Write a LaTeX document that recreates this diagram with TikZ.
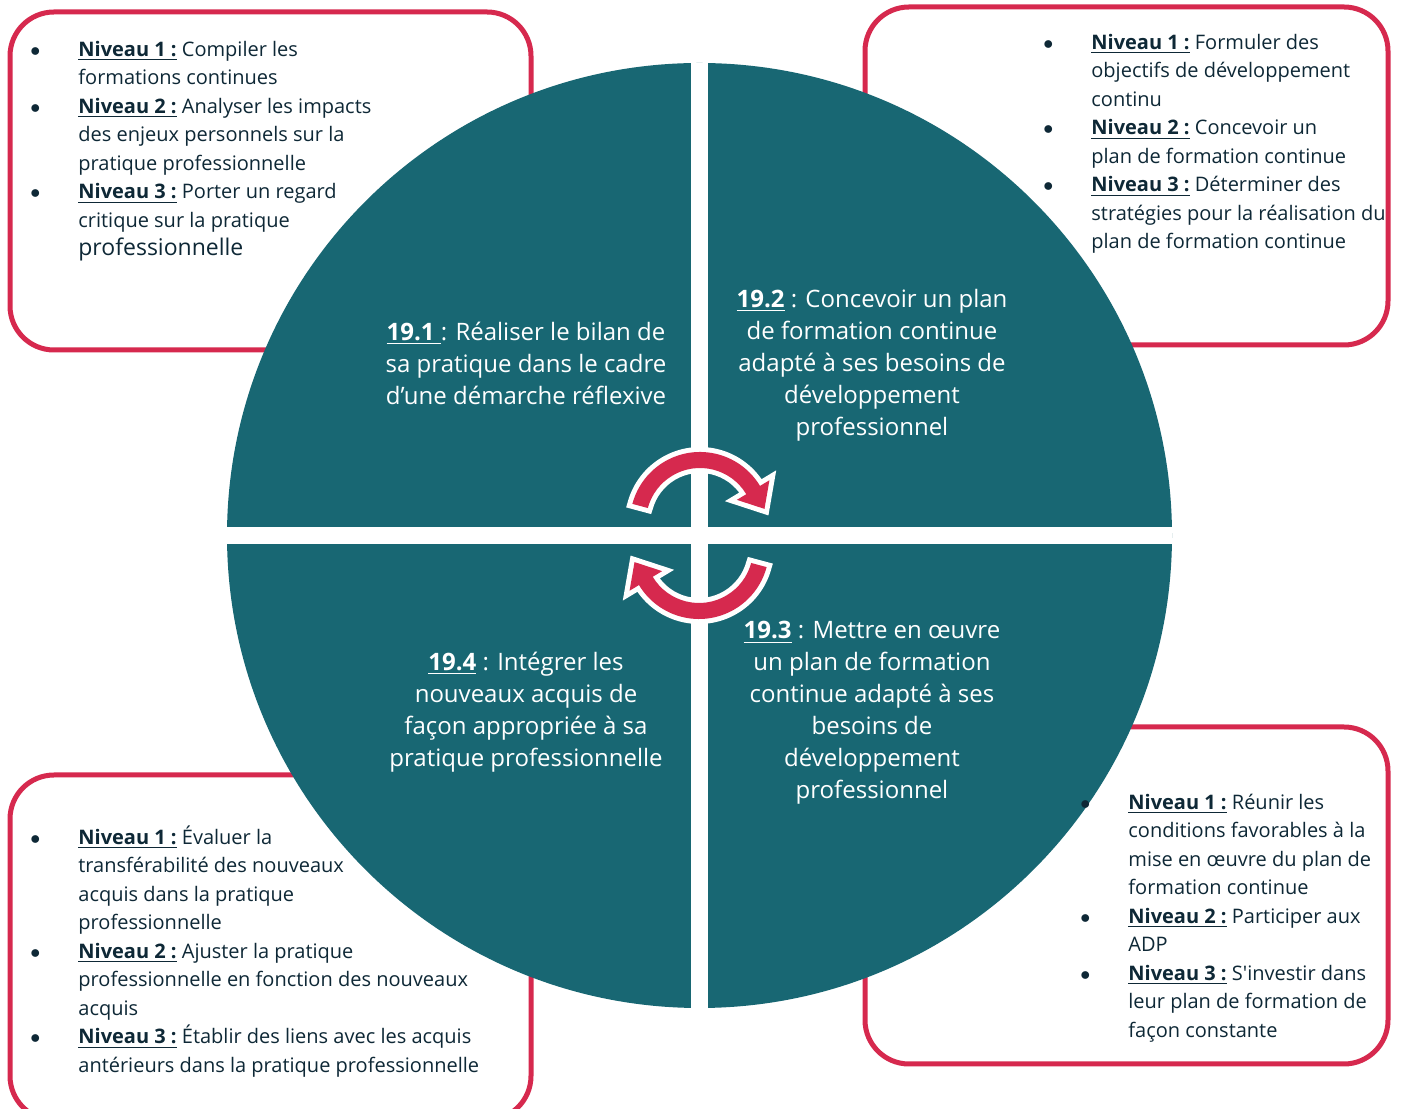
\documentclass[tikz,border=0pt]{standalone}
\usepackage{fontspec}
\setmainfont{Open Sans}[Ligatures=TeXOff]
\definecolor{teal19}{RGB}{24,103,115}
\definecolor{red19}{RGB}{214,41,78}
\definecolor{ink19}{RGB}{14,40,54}
\newcommand{\niv}[1]{\underline{\textbf{Niveau #1 :}}}
\newcommand{\pt}{$\bullet$}
\newcommand{\boxfont}{\fontsize{10}{14.25}\selectfont}
\newcommand{\circfont}{\fontsize{12}{16}\selectfont}
\tikzset{
  levelbox/.style={draw=red19,line width=2.5pt,fill=white,rounded corners=22pt},
  goal/.style={text=white,align=center,font=\circfont,inner sep=0pt},
  levels/.style={text=ink19,anchor=north west,inner sep=0pt,font=\boxfont},
  turn/.style={fill=red19,preaction={draw=white,line width=5pt}}
}
\begin{document}
\begin{tikzpicture}[x=0.5pt,y=0.5pt]
  \useasboundingbox (0,0) rectangle (1405,1109);
  \clip (0,0) rectangle (1405,1109);
  % boxes behind the wheel
  \draw[levelbox] (10,1097) rectangle (531,759);
  \draw[levelbox] (865,1102) rectangle (1388,764);
  \draw[levelbox] (865,382) rectangle (1388,45);
  \draw[levelbox] (10,334) rectangle (531,-11);
  % wheel
  \fill[teal19] (699.5,573.5) circle[radius=472.5];
  \begin{scope}
    \clip (699.5,573.5) circle[radius=472.5];
    \fill[white] (691,0) rectangle (708,1109);
    \fill[white] (0,565) rectangle (1405,582);
  \end{scope}
  \foreach \cx/\cy/\rot in {700/587/0,699/560/180}{
    \begin{scope}[shift={(\cx,\cy)},rotate=\rot]
      \path[turn] (165:70) arc[start angle=165,end angle=31,radius=70]
        -- (31:81) -- (11.5:65.8) -- (31:43) -- (31:54)
        arc[start angle=31,end angle=165,radius=54] -- cycle;
    \end{scope}
  }
  % competences
  \node[goal] (g191) at (526,746) {\underline{\textbf{19.1}\ }: Réaliser le bilan de\\
    sa pratique dans le cadre\\ d’une démarche réflexive};
  \node[goal] (g192) at (872,743.5) {\underline{\textbf{19.2}} : Concevoir un plan\\
    de formation continue\\ adapté à ses besoins de\\ développement\\ professionnel};
  \node[goal] (g193) at (872,396) {\underline{\textbf{19.3}} : Mettre en œuvre\\
    un plan de formation\\ continue adapté à ses\\ besoins de\\ développement\\ professionnel};
  \node[goal] (g194) at (526,397) {\underline{\textbf{19.4}} : Intégrer les\\
    nouveaux acquis de\\ façon appropriée à sa\\ pratique professionnelle};
  % niveaux
  \node[levels] (n191) at (30,1073) {\begin{tabular}{@{}p{24pt}@{}l@{}}
    \pt & \niv{1} Compiler les\\
    & formations continues\\
    \pt & \niv{2} Analyser les impacts\\
    & des enjeux personnels sur la\\
    & pratique professionnelle\\
    \pt & \niv{3} Porter un regard\\
    & critique sur la pratique\\
    & {\fontsize{11.5}{14.25}\selectfont professionnelle}
  \end{tabular}};
  \node[levels] (n192) at (1043,1080) {\begin{tabular}{@{}p{24pt}@{}l@{}}
    \pt & \niv{1} Formuler des\\
    & objectifs de développement\\
    & continu\\
    \pt & \niv{2} Concevoir un\\
    & plan de formation continue\\
    \pt & \niv{3} Déterminer des\\
    & stratégies pour la réalisation du\\
    & plan de formation continue
  \end{tabular}};
  \node[levels] (n193) at (1080,320) {\begin{tabular}{@{}p{24pt}@{}l@{}}
    \pt & \niv{1} Réunir les\\
    & conditions favorables à la\\
    & mise en œuvre du plan de\\
    & formation continue\\
    \pt & \niv{2} Participer aux\\
    & ADP\\
    \pt & \niv{3} S'investir dans\\
    & leur plan de formation de\\
    & façon constante
  \end{tabular}};
  \node[levels] (n194) at (30,285) {\begin{tabular}{@{}p{24pt}@{}l@{}}
    \pt & \niv{1} Évaluer la\\
    & transférabilité des nouveaux\\
    & acquis dans la pratique\\
    & professionnelle\\
    \pt & \niv{2} Ajuster la pratique\\
    & professionnelle en fonction des nouveaux\\
    & acquis\\
    \pt & \niv{3} Établir des liens avec les acquis\\
    & antérieurs dans la pratique professionnelle
  \end{tabular}};
\end{tikzpicture}
\end{document}
